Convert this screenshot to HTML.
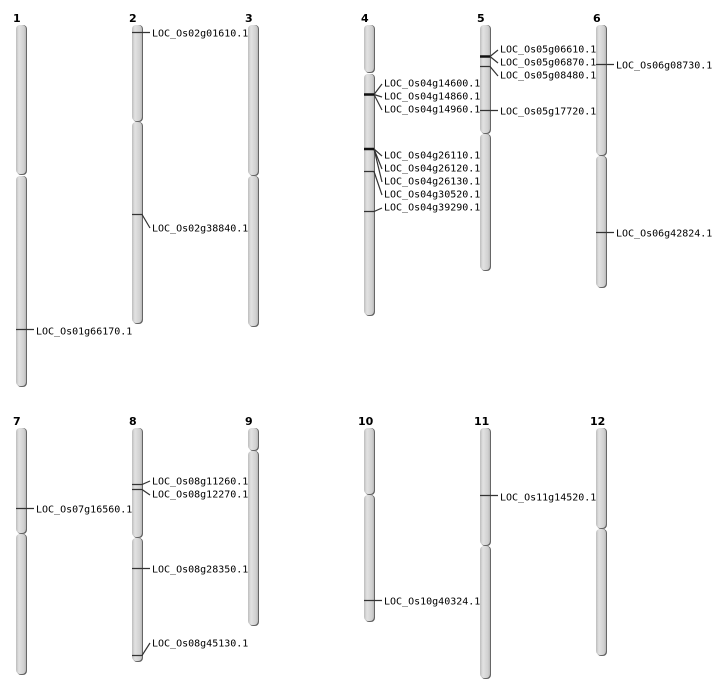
<!DOCTYPE html>
<html><head><meta charset="utf-8"><style>
html,body{margin:0;padding:0;background:#fff;}
svg{display:block;}
text{font-family:"DejaVu Sans Mono","Liberation Mono",monospace;font-size:10px;fill:#000;}
.n{font-family:"DejaVu Sans","Liberation Sans",sans-serif;font-weight:bold;font-size:11px;}
.s{fill:#666;}
.a{fill:url(#g);}
.m{stroke:#333;stroke-width:1.2;fill:none;}
.t{stroke:#111;stroke-width:2.5;}
</style></head><body>
<svg width="712" height="700" viewBox="0 0 712 700" xmlns="http://www.w3.org/2000/svg">
<defs><linearGradient id="g" x1="0" x2="1" y1="0" y2="0">
<stop offset="0" stop-color="#bdbdbd"/><stop offset="0.3" stop-color="#e2e2e2"/><stop offset="0.8" stop-color="#d0d0d0"/><stop offset="1" stop-color="#b8b8b8"/></linearGradient></defs>

<text class="n" x="13" y="22">1</text><text class="n" x="129" y="22">2</text><text class="n" x="245" y="22">3</text>
<text class="n" x="361" y="22">4</text><text class="n" x="477" y="22">5</text><text class="n" x="593" y="22">6</text>
<text class="n" x="13" y="425">7</text><text class="n" x="129" y="425">8</text><text class="n" x="245" y="425">9</text>
<text class="n" x="358" y="425">10</text><text class="n" x="474" y="425">11</text><text class="n" x="590" y="425">12</text>

<rect class="s" x="17" y="25" width="10" height="150" rx="4"/><rect class="a" x="16" y="25" width="10" height="149" rx="4"/>
<rect class="s" x="17" y="176" width="10" height="211" rx="4"/><rect class="a" x="16" y="176" width="10" height="210" rx="4"/>
<rect class="s" x="133" y="25" width="10" height="97" rx="4"/><rect class="a" x="132" y="25" width="10" height="96" rx="4"/>
<rect class="s" x="133" y="122" width="10" height="202" rx="4"/><rect class="a" x="132" y="122" width="10" height="201" rx="4"/>
<rect class="s" x="249" y="25" width="10" height="151" rx="4"/><rect class="a" x="248" y="25" width="10" height="150" rx="4"/>
<rect class="s" x="249" y="176" width="10" height="151" rx="4"/><rect class="a" x="248" y="176" width="10" height="150" rx="4"/>
<rect class="s" x="365" y="25" width="10" height="48" rx="4"/><rect class="a" x="364" y="25" width="10" height="47" rx="4"/>
<rect class="s" x="365" y="74" width="10" height="242" rx="4"/><rect class="a" x="364" y="74" width="10" height="241" rx="4"/>
<rect class="s" x="481" y="25" width="10" height="109" rx="4"/><rect class="a" x="480" y="25" width="10" height="108" rx="4"/>
<rect class="s" x="481" y="134" width="10" height="137" rx="4"/><rect class="a" x="480" y="134" width="10" height="136" rx="4"/>
<rect class="s" x="597" y="25" width="10" height="131" rx="4"/><rect class="a" x="596" y="25" width="10" height="130" rx="4"/>
<rect class="s" x="597" y="156" width="10" height="132" rx="4"/><rect class="a" x="596" y="156" width="10" height="131" rx="4"/>
<rect class="s" x="17" y="428" width="10" height="106" rx="4"/><rect class="a" x="16" y="428" width="10" height="105" rx="4"/>
<rect class="s" x="17" y="534" width="10" height="141" rx="4"/><rect class="a" x="16" y="534" width="10" height="140" rx="4"/>
<rect class="s" x="133" y="428" width="10" height="110" rx="4"/><rect class="a" x="132" y="428" width="10" height="109" rx="4"/>
<rect class="s" x="133" y="538" width="10" height="124" rx="4"/><rect class="a" x="132" y="538" width="10" height="123" rx="4"/>
<rect class="s" x="249" y="428" width="10" height="23" rx="4"/><rect class="a" x="248" y="428" width="10" height="22" rx="4"/>
<rect class="s" x="249" y="451" width="10" height="175" rx="4"/><rect class="a" x="248" y="451" width="10" height="174" rx="4"/>
<rect class="s" x="365" y="428" width="10" height="67" rx="4"/><rect class="a" x="364" y="428" width="10" height="66" rx="4"/>
<rect class="s" x="365" y="495" width="10" height="127" rx="4"/><rect class="a" x="364" y="495" width="10" height="126" rx="4"/>
<rect class="s" x="481" y="428" width="10" height="118" rx="4"/><rect class="a" x="480" y="428" width="10" height="117" rx="4"/>
<rect class="s" x="481" y="546" width="10" height="133" rx="4"/><rect class="a" x="480" y="546" width="10" height="132" rx="4"/>
<rect class="s" x="597" y="428" width="10" height="101" rx="4"/><rect class="a" x="596" y="428" width="10" height="100" rx="4"/>
<rect class="s" x="597" y="529" width="10" height="127" rx="4"/><rect class="a" x="596" y="529" width="10" height="126" rx="4"/>

<g class="m">
<path d="M16 329.5H34"/>
<path d="M132 32.5H150"/>
<path d="M132 214.5H142L150 228"/>
<path d="M364 94.5H374L382 84M374 94.5L382 97M374 94.5L382 110"/>
<path d="M364 149H374L382 156M374 149L382 169M374 149L382 182"/>
<path d="M364 171.5H374L382 195"/>
<path d="M364 211.5H374L382 208"/>
<path d="M480 56.5H490L498 50M490 56.5L498 63"/>
<path d="M480 66.5H490L498 76"/>
<path d="M480 110.5H498"/>
<path d="M596 64.5H614"/>
<path d="M596 232.5H614"/>
<path d="M16 508.5H34"/>
<path d="M132 484.5H142L150 481M132 489.5H142L150 495"/>
<path d="M132 568.5H150"/>
<path d="M132 655.5H142L150 643"/>
<path d="M364 600.5H382"/>
<path d="M480 495.5H498"/>
</g>
<path class="t" d="M364 94.5H374M364 149H374M480 56.5H490"/>

<g dominant-baseline="central">
<text x="36" y="332">LOC_Os01g66170.1</text>
<text x="152" y="34">LOC_Os02g01610.1</text>
<text x="152" y="229">LOC_Os02g38840.1</text>
<text x="384" y="84">LOC_Os04g14600.1</text>
<text x="384" y="97">LOC_Os04g14860.1</text>
<text x="384" y="110">LOC_Os04g14960.1</text>
<text x="384" y="156">LOC_Os04g26110.1</text>
<text x="384" y="169">LOC_Os04g26120.1</text>
<text x="384" y="182">LOC_Os04g26130.1</text>
<text x="384" y="195">LOC_Os04g30520.1</text>
<text x="384" y="208">LOC_Os04g39290.1</text>
<text x="500" y="50">LOC_Os05g06610.1</text>
<text x="500" y="63">LOC_Os05g06870.1</text>
<text x="500" y="76">LOC_Os05g08480.1</text>
<text x="500" y="112">LOC_Os05g17720.1</text>
<text x="616" y="66">LOC_Os06g08730.1</text>
<text x="616" y="234">LOC_Os06g42824.1</text>
<text x="36" y="510">LOC_Os07g16560.1</text>
<text x="152" y="482">LOC_Os08g11260.1</text>
<text x="152" y="495">LOC_Os08g12270.1</text>
<text x="152" y="570">LOC_Os08g28350.1</text>
<text x="152" y="644">LOC_Os08g45130.1</text>
<text x="384" y="602">LOC_Os10g40324.1</text>
<text x="500" y="498">LOC_Os11g14520.1</text>
</g>
</svg>
</body></html>
